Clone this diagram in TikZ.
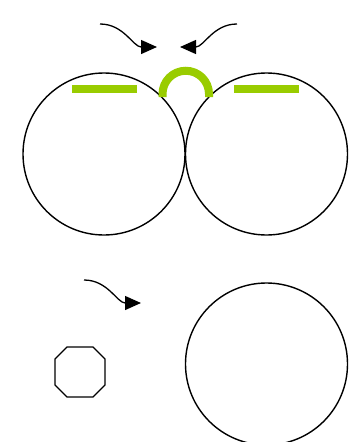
\documentclass[tikz,border=0pt]{standalone}
\usetikzlibrary{arrows.meta}
\definecolor{lime}{HTML}{99CC00}
\tikzset{
  ring/.style={circle, draw=black, line width=1.4pt, minimum size=162pt, inner sep=0pt, outer sep=0pt},
  greenbar/.style={draw=lime, line width=8pt},
  curvyarrow/.style={draw=black, line width=1.3pt, -{Triangle[length=16pt,width=14pt]}},
  octa/.style={draw=black, line width=1.4pt}
}
\begin{document}
\begin{tikzpicture}[x=1pt,y=-1pt]
\useasboundingbox (0,0) rectangle (355,442);
\clip (0,0) rectangle (355,442);
\fill[white] (0,0) rectangle (355,442);
% circles
\node[ring] (c1) at (104,154) {};
\node[ring] (c2) at (266.5,154) {};
\node[ring] (c3) at (266.5,364) {};
% green bars
\coordinate (g1a) at (72,89);
\coordinate (g1b) at (137,89);
\coordinate (g2a) at (234,89);
\coordinate (g2b) at (299,89);
\draw[greenbar] (g1a) -- (g1b);
\draw[greenbar] (g2a) -- (g2b);
% green arch
\coordinate (ga) at (162.5,97);
\coordinate (gb) at (209,97);
\draw[greenbar] (ga) -- ++(0,-3) arc[start angle=180, end angle=0, radius=23.25pt] -- (gb);
% arrows
\coordinate (a1s) at (100,24);
\coordinate (a1e) at (157,47);
\coordinate (a2s) at (237,24);
\coordinate (a2e) at (180,47);
\coordinate (a3s) at (84,280);
\coordinate (a3e) at (141,303);
\draw[curvyarrow] (a1s) to[out=0,in=180] (a1e);
\draw[curvyarrow] (a2s) to[out=180,in=0] (a2e);
\draw[curvyarrow] (a3s) to[out=0,in=180] (a3e);
% octagon
\draw[octa] (67,347) -- (93,347) -- (105,359) -- (105,385) -- (93,397) -- (67,397) -- (55,385) -- (55,359) -- cycle;
\end{tikzpicture}
\end{document}
